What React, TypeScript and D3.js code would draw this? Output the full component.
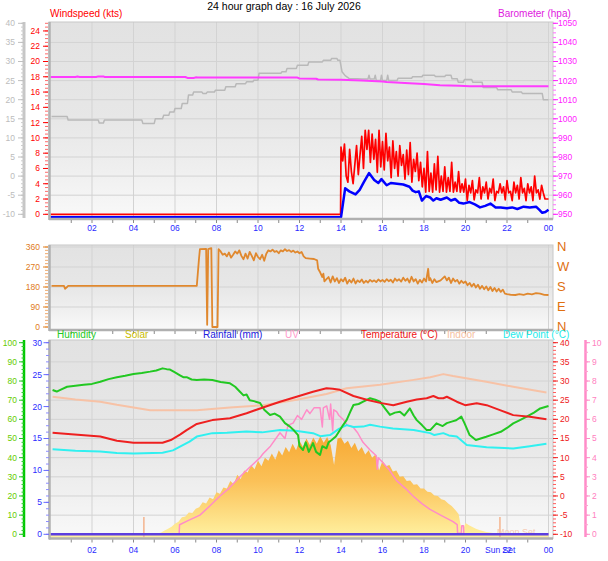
import { useEffect, useRef } from 'react';
import * as d3 from 'd3';

type Pt = [number, number];

const W = 608;
const H = 561;
const FONT = '"Liberation Sans", Arial, sans-serif';

const chartTitle = '24 hour graph day : 16 July 2026';

// x axis (hours)
const labelHours = [2, 4, 6, 8, 10, 12, 14, 16, 18, 20, 22, 24];
const hourLabels = ['02', '04', '06', '08', '10', '12', '14', '16', '18', '20', '22', '00'];

// ---- top panel ----
const barometer: Pt[] = [
  [0, 1021.9], [1.2, 1021.9], [1.3, 1022.1], [1.4, 1021.9], [2.2, 1021.9], [2.3, 1022.2],
  [2.55, 1022.2], [2.6, 1021.9], [6.5, 1021.9], [6.6, 1021.4], [6.9, 1021.4], [7.0, 1021.7],
  [7.1, 1021.6], [11.9, 1021.6], [12.0, 1021.1], [12.8, 1021.0], [12.9, 1020.6], [14.0, 1020.5],
  [15.0, 1020.0], [16.0, 1019.5], [16.2, 1019.3], [17.3, 1018.6], [18.0, 1018.2], [18.77, 1017.6],
  [19.7, 1017.3], [20.2, 1017.0], [24.0, 1017.0],
];

const grayTrace: Pt[] = [
  [0.05, 15.6], [0.8, 15.6], [0.85, 14.7], [2.3, 14.7], [2.35, 13.9], [2.55, 13.9], [2.6, 14.7],
  [4.4, 14.7], [4.45, 13.8], [5.0, 13.8], [5.05, 15.0], [5.4, 15.0], [5.45, 15.9], [5.7, 15.9],
  [5.75, 16.8], [5.95, 16.8], [6.0, 17.7], [6.3, 17.7], [6.35, 19.0], [6.6, 19.0], [6.65, 21.2],
  [6.85, 21.2], [6.9, 22.0], [7.3, 22.0], [7.35, 21.6], [7.5, 21.6], [7.55, 22.0], [7.9, 22.0],
  [7.95, 22.5], [8.4, 22.5], [8.45, 23.4], [8.9, 23.4], [8.95, 24.2], [9.4, 24.2], [9.45, 24.7],
  [9.75, 24.7], [9.8, 25.1], [10.0, 25.1], [10.05, 26.9], [11.1, 26.9], [11.15, 27.3], [11.35, 27.3],
  [11.4, 28.2], [11.85, 28.2], [11.9, 29.0], [12.4, 29.0], [12.45, 29.9], [13.1, 29.9], [13.15, 30.3],
  [13.5, 30.3], [13.55, 30.8], [13.8, 30.8], [13.85, 30.3], [13.95, 30.3], [14.05, 27.3], [14.2, 26.3],
  [14.4, 25.5], [14.8, 25.5], [15.0, 25.4], [15.3, 25.4], [15.35, 26.4], [15.4, 25.4], [15.6, 25.4],
  [15.65, 26.4], [15.7, 25.0], [15.9, 25.0], [15.95, 26.4], [16.0, 25.0], [16.2, 25.0], [16.25, 26.4],
  [16.3, 25.0], [16.7, 25.0], [16.75, 25.6], [17.4, 25.6], [17.45, 26.0], [17.9, 26.0], [17.95, 26.4],
  [18.5, 26.4], [18.55, 26.1], [19.0, 26.1], [19.05, 26.4], [19.3, 26.4], [19.35, 25.5], [19.6, 25.5],
  [19.65, 24.6], [19.9, 24.6], [19.95, 25.3], [20.3, 25.3], [20.35, 24.6], [20.8, 24.6], [20.85, 23.2],
  [21.5, 23.2], [21.55, 22.6], [22.2, 22.6], [22.25, 22.0], [22.7, 22.0], [22.75, 21.6], [23.7, 21.6],
  [23.75, 20.0], [24.0, 20.0],
];

// gust, 5 minute samples from 14:00
const gustStartHour = 14;
const gust = [
  8.8, 7.0, 9.2, 5.0, 4.2, 8.5, 5.6, 4.0, 6.5, 9.0, 5.2, 7.8,
  10.2, 6.0, 11.0, 8.5, 11.0, 6.8, 10.5, 7.2, 9.8, 5.5, 11.0, 6.2,
  9.5, 5.8, 10.6, 7.0, 8.8, 4.8, 9.6, 6.0, 8.2, 5.0, 9.0, 6.4,
  7.8, 4.6, 8.4, 5.2, 9.4, 4.2, 7.2, 5.6, 8.0, 4.4, 6.8, 3.6,
  6.0, 2.9, 8.2, 3.0, 5.4, 2.9, 6.6, 3.2, 7.6, 2.9, 5.0, 3.0,
  6.2, 2.9, 4.8, 3.0, 6.8, 2.9, 4.2, 3.0, 5.6, 2.9, 4.0, 2.9,
  4.6, 1.8, 3.8, 2.8, 4.4, 1.9, 3.2, 2.8, 4.8, 2.0, 3.6, 2.8,
  4.2, 2.0, 3.4, 2.8, 4.6, 1.8, 3.0, 2.8, 4.0, 2.8, 3.6, 1.9,
  4.4, 2.8, 3.0, 1.8, 4.2, 2.8, 3.8, 2.0, 4.8, 2.8, 3.4, 1.8,
  4.0, 2.8, 3.6, 1.8, 5.0, 2.8, 3.2, 2.0, 3.8, 2.8, 2.0, 2.0,
  2.0,
];

const windAvg: Pt[] = [
  [0, -0.4], [14.0, -0.4], [14.2, 3.4], [14.4, 3.0], [14.7, 2.6], [14.9, 3.2], [15.1, 4.2],
  [15.35, 5.4], [15.6, 4.5], [15.8, 4.1], [15.95, 4.6], [16.2, 3.8], [16.4, 4.1], [16.7, 4.0],
  [17.0, 3.9], [17.3, 3.6], [17.45, 3.1], [17.6, 2.9], [17.75, 3.0], [17.9, 1.8], [18.1, 2.4],
  [18.3, 2.2], [18.45, 1.8], [18.6, 2.1], [18.8, 1.9], [19.1, 2.2], [19.3, 1.8], [19.5, 2.0],
  [19.7, 1.5], [19.9, 1.4], [20.2, 1.6], [20.45, 1.3], [20.7, 0.9], [20.95, 1.1], [21.2, 1.4],
  [21.45, 0.9], [21.7, 0.9], [22.0, 0.8], [22.25, 0.9], [22.5, 0.7], [22.8, 1.0], [23.1, 0.9],
  [23.4, 1.0], [23.55, 0.6], [23.7, 0.2], [23.85, 0.3], [24.0, 0.6],
];

// ---- middle panel: wind direction ----
const windDir: Pt[] = [
  [0.05, 185], [0.65, 185], [0.7, 172], [0.8, 180], [0.85, 185], [7.05, 185], [7.15, 300], [7.2, 350],
  [7.5, 352], [7.55, 10], [7.6, 350], [7.75, 355], [7.8, 0], [8.05, 0], [8.1, 350], [8.2, 340],
  [8.3, 325], [8.4, 330], [8.5, 318], [8.6, 335], [8.7, 312], [8.8, 325], [8.9, 340], [9.0, 330],
  [9.1, 345], [9.2, 320], [9.3, 305], [9.4, 330], [9.5, 308], [9.6, 338], [9.7, 320], [9.8, 300],
  [9.9, 332], [10.0, 315], [10.1, 305], [10.2, 325], [10.3, 298], [10.4, 330], [10.5, 345], [10.6, 340],
  [10.7, 348], [10.8, 338], [10.9, 342], [11.0, 332], [11.1, 345], [11.2, 340], [11.3, 350], [11.4, 342],
  [11.5, 346], [11.6, 338], [11.7, 344], [11.8, 335], [11.9, 340], [12.0, 332], [12.1, 338], [12.2, 318],
  [12.3, 310], [12.5, 308], [12.7, 306], [12.85, 300], [12.9, 262], [13.0, 245], [13.1, 225], [13.15, 240],
  [13.2, 205], [13.3, 215], [13.4, 225], [13.5, 200], [13.6, 228], [13.7, 205], [13.8, 220], [13.9, 198],
  [14.0, 215], [14.1, 205], [14.2, 222], [14.3, 195], [14.4, 212], [14.5, 200], [14.6, 218], [14.7, 196],
  [14.8, 210], [14.9, 202], [15.0, 214], [15.1, 198], [15.2, 208], [15.3, 200], [15.4, 212], [15.5, 204],
  [15.6, 210], [15.7, 202], [15.8, 214], [15.9, 205], [16.0, 212], [16.1, 203], [16.2, 215], [16.3, 206],
  [16.4, 213], [16.5, 200], [16.6, 218], [16.7, 208], [16.8, 215], [16.9, 204], [17.0, 222], [17.1, 208],
  [17.2, 218], [17.3, 200], [17.4, 226], [17.5, 205], [17.6, 215], [17.7, 195], [17.8, 212], [17.9, 200],
  [18.0, 218], [18.1, 205], [18.2, 262], [18.25, 210], [18.3, 220], [18.4, 198], [18.5, 215], [18.6, 202],
  [18.8, 210], [19.0, 228], [19.1, 210], [19.2, 222], [19.3, 198], [19.4, 218], [19.5, 205], [19.6, 212],
  [19.7, 195], [19.8, 208], [19.9, 198], [20.0, 205], [20.1, 188], [20.2, 198], [20.3, 182], [20.4, 195],
  [20.5, 178], [20.6, 190], [20.7, 172], [20.8, 185], [20.9, 170], [21.0, 182], [21.1, 165], [21.2, 180],
  [21.3, 162], [21.4, 176], [21.5, 160], [21.6, 172], [21.7, 158], [21.8, 168], [21.9, 150], [22.0, 148],
  [22.2, 145], [22.4, 144], [22.6, 148], [22.8, 145], [23.0, 150], [23.2, 147], [23.4, 152], [23.6, 150],
  [23.8, 145], [24.0, 144],
];
const compassLetters = ['N', 'W', 'S', 'E', 'N'];
const compassDeg = [360, 270, 180, 90, 0];

// ---- bottom panel ----
const humidity: Pt[] = [
  [0.1, 75.3], [0.3, 74.5], [0.5, 75.5], [0.8, 77], [1.2, 77.5], [1.6, 78], [2.0, 78.5], [2.4, 79.6],
  [2.8, 81], [3.2, 82], [3.6, 82.8], [4.0, 83.7], [4.4, 84.2], [4.8, 84.9], [5.1, 85.5], [5.4, 86.6],
  [5.6, 86.2], [5.76, 86], [6.0, 84.5], [6.24, 83], [6.4, 82], [6.56, 82], [6.8, 80.8], [7.05, 80.5],
  [7.4, 80.8], [7.8, 80.5], [8.2, 79.5], [8.65, 78.8], [8.9, 77], [9.13, 74.4], [9.3, 72.5], [9.45, 73],
  [9.6, 70], [9.8, 69.5], [10.1, 68.5], [10.3, 65], [10.58, 62.3], [10.8, 63], [11.06, 61.4], [11.3, 58],
  [11.54, 56.2], [11.75, 54], [11.93, 51.8], [12.0, 46], [12.17, 44], [12.3, 48], [12.45, 43], [12.65, 47.6],
  [12.8, 43], [12.99, 41.4], [13.1, 46], [13.3, 44.9], [13.4, 48], [13.55, 49.2], [13.75, 51], [13.95, 54.4],
  [14.1, 57], [14.27, 59.6], [14.45, 64], [14.6, 67.5], [14.85, 68], [15.07, 69.2], [15.4, 71], [15.65, 70.2],
  [15.88, 69.2], [16.1, 66], [16.36, 62.3], [16.6, 63.5], [16.84, 64], [17.05, 62], [17.32, 65.7], [17.5, 62],
  [17.65, 59.6], [17.9, 57], [18.13, 54.4], [18.3, 54.4], [18.6, 57.9], [18.9, 56.5], [19.1, 58], [19.33, 58.8],
  [19.55, 59.5], [19.8, 61.4], [19.95, 58], [20.2, 51.8], [20.5, 49.2], [21.0, 50.9], [21.3, 52], [21.7, 53.5],
  [22.0, 55.5], [22.3, 57.9], [22.6, 59.5], [22.95, 61.4], [23.3, 63.5], [23.6, 65.7], [24.0, 67],
];

const temperature: Pt[] = [
  [0.1, 16.5], [1.0, 16.1], [2.4, 15.5], [3.2, 14.4], [4.0, 13.9], [5.4, 13.9], [5.8, 14.6], [6.24, 16.0],
  [6.56, 17.2], [7.05, 18.8], [7.8, 19.8], [8.65, 20.3], [9.45, 21.6], [10.24, 23.1], [11.06, 24.6],
  [11.86, 25.9], [12.65, 27.2], [13.3, 28.1], [13.6, 28.0], [13.95, 27.7], [14.6, 26.1], [15.24, 25.1],
  [15.88, 24.3], [16.52, 23.7], [17.17, 24.6], [17.65, 25.2], [18.13, 25.5], [18.45, 26.1], [18.7, 25.5],
  [18.93, 25.5], [19.1, 25.9], [19.58, 24.6], [19.98, 23.7], [20.54, 24.2], [21.02, 23.7], [21.66, 22.4],
  [22.3, 21.1], [23.1, 20.7], [23.9, 20],
];

const indoor: Pt[] = [
  [0.1, 25.9], [1.2, 25.2], [2.4, 24.6], [3.2, 23.8], [4.0, 23.1], [4.8, 22.4], [6.24, 22.4], [7.05, 22.4],
  [8.65, 23.1], [10.24, 23.7], [11.86, 25.1], [13.3, 26.6], [14.27, 28.1], [15.88, 29], [17.5, 30.3],
  [18.3, 31], [18.93, 31.8], [19.4, 31.3], [21.0, 29.8], [22.3, 28.5], [23.9, 27],
];

const dewPoint: Pt[] = [
  [0.1, 12.2], [1.2, 11.8], [2.4, 11.6], [3.2, 11.2], [4.0, 11.1], [5.4, 11.3], [5.9, 11.9], [6.24, 12.9],
  [6.7, 14.2], [7.05, 15.5], [7.8, 16.4], [8.5, 16.5], [9.45, 16.8], [10.2, 16.6], [11.06, 17.2], [11.8, 17.0],
  [12.65, 16.4], [13.0, 15.6], [13.47, 15.9], [13.9, 17.5], [14.27, 18.5], [14.6, 18.0], [15.07, 18.1],
  [15.4, 18.6], [15.88, 18.1], [16.5, 17.6], [17.5, 17.2], [18.3, 16.4], [18.5, 15.9], [18.93, 16.4],
  [19.2, 15.8], [19.58, 15.5], [20.06, 13.3], [21.02, 12.7], [22.3, 12.4], [23.1, 13.0], [23.9, 13.6],
];

const uvIndex: Pt[] = [
  [0, 0], [6.2, 0], [6.22, 0.5], [6.6, 0.7], [7.2, 1.0], [7.7, 1.5], [8.17, 2.0], [8.6, 2.4], [9.13, 3.0],
  [9.6, 3.5], [10.1, 4.0], [10.24, 4.2], [10.6, 4.6], [11.06, 5.3], [11.3, 5.0], [11.45, 5.7], [11.69, 5.8],
  [11.9, 6.2], [12.1, 6.0], [12.35, 6.5], [12.5, 6.3], [12.7, 6.6], [12.99, 6.6], [13.1, 5.6], [13.15, 6.6],
  [13.31, 6.7], [13.45, 6.0], [13.5, 6.8], [13.6, 5.4], [13.65, 6.5], [13.79, 6.4], [13.9, 6.2], [14.1, 6.0],
  [14.3, 5.7], [14.58, 5.6], [14.8, 5.3], [15.06, 4.8], [15.4, 4.4], [15.7, 4.1], [15.75, 3.4], [15.8, 4.0],
  [15.88, 3.9], [16.3, 3.4], [16.68, 2.8], [17.1, 2.4], [17.47, 2.0], [17.9, 1.6], [18.29, 1.3], [18.8, 1.0],
  [19.4, 0.66], [19.6, 0.5], [19.62, 0.05], [19.8, 0.05], [19.82, 0.45], [19.9, 0.45], [19.92, 0], [24, 0],
];

// solar, 10 minute samples from 05:00 (W/m2)
const solarStartHour = 5;
const solar = [
  0, 8, 18, 35, 52, 70,
  100, 118, 160, 168, 205, 200,
  240, 255, 300, 290, 345, 330,
  395, 380, 440, 430, 500, 470,
  560, 520, 600, 580, 650, 610,
  690, 640, 720, 690, 760, 700,
  790, 740, 820, 770, 850, 790,
  880, 820, 900, 840, 910, 850,
  920, 860, 915, 840, 650, 900,
  910, 850, 880, 810, 860, 780,
  820, 750, 790, 720, 750, 600,
  690, 640, 650, 590, 600, 540,
  545, 500, 505, 465, 470, 430,
  430, 400, 395, 365, 360, 330,
  320, 290, 265, 230, 190, 12,
  106, 85, 68, 52, 40, 30,
  22, 16, 12, 8, 5, 2,
  0,
];

const moonRise = 4.5;
const moonSet = 21.66;

const legendNames = ['Humidity', 'Solar', 'Rainfall (mm)', 'UV', 'Temperature (°C)', 'Indoor', 'Dew Point (°C)'];
const legendColors = ['#22c822', '#c8bc00', '#2020dd', '#ff9ccc', '#ee1414', '#f5c0a0', '#22eaea'];
const legendX = [57, 125, 203, 285, 361, 447, 503];

export default function App() {
  const svgRef = useRef<SVGSVGElement>(null);

  useEffect(() => {
    if (!svgRef.current) return;
    const svg = d3.select(svgRef.current);
    svg.selectAll('*').remove();
    svg.attr('width', W).attr('height', H).style('font-family', FONT);
    svg.append('rect').attr('width', W).attr('height', H).attr('fill', '#fff');

    const defs = svg.append('defs');
    const bg = defs.append('linearGradient').attr('id', 'bgGrad')
      .attr('x1', 0).attr('x2', 0).attr('y1', 0).attr('y2', 1);
    ([[0, '#e2e2e2'], [0.5, '#e7e7e7'], [0.75, '#efefef'], [1, '#f9f9f9']] as [number, string][])
      .forEach(([o, c]) => bg.append('stop').attr('offset', o).attr('stop-color', c));
    const sg = defs.append('linearGradient').attr('id', 'solarGrad')
      .attr('gradientUnits', 'userSpaceOnUse').attr('x1', 0).attr('x2', 0).attr('y1', 435).attr('y2', 538);
    ([[0, '#f7a933'], [0.45, '#fbc158'], [1, '#fff2a2']] as [number, string][])
      .forEach(([o, c]) => sg.append('stop').attr('offset', o).attr('stop-color', c));

    const x = d3.scaleLinear().domain([0, 24]).range([50.5, 548.5]);
    const L = 49;
    const R = 553;

    const panel = (y0: number, y1: number, gridY: number[]) => {
      const g = svg.append('g');
      g.append('rect').attr('x', L).attr('y', y0).attr('width', R - L).attr('height', y1 - y0)
        .attr('fill', 'url(#bgGrad)');
      g.selectAll('line.vx').data(labelHours).join('line')
        .attr('x1', (d) => x(d)).attr('x2', (d) => x(d)).attr('y1', y0).attr('y2', y1)
        .attr('stroke', '#d3d3d3').attr('stroke-width', 1);
      g.selectAll('line.hy').data(gridY).join('line')
        .attr('x1', L).attr('x2', R).attr('y1', (d) => d).attr('y2', (d) => d)
        .attr('stroke', '#d3d3d3').attr('stroke-width', 1);
    };

    const frame = (y0: number, y1: number) => {
      const g = svg.append('g');
      g.append('rect').attr('x', L).attr('y', y0).attr('width', R - L).attr('height', y1 - y0)
        .attr('fill', 'none').attr('stroke', '#c8c8c8');
      g.append('line').attr('x1', L + 0.5).attr('x2', L + 0.5).attr('y1', y0).attr('y2', y1 + 1)
        .attr('stroke', '#b0b0b0').attr('stroke-width', 2.5);
      g.append('line').attr('x1', L).attr('x2', R).attr('y1', y1).attr('y2', y1)
        .attr('stroke', '#b0b0b0').attr('stroke-width', 2.5);
      g.selectAll('line.ht').data(d3.range(1, 24)).join('line')
        .attr('x1', (d) => x(d)).attr('x2', (d) => x(d)).attr('y1', y1 + 1).attr('y2', y1 + 4)
        .attr('stroke', '#8a8a8a');
    };

    const ticks = (vals: number[], ys: (v: number) => number, x1: number, x2: number, color: string, w = 1) => {
      svg.append('g').selectAll('line').data(vals).join('line')
        .attr('x1', x1).attr('x2', x2).attr('y1', (d) => ys(d)).attr('y2', (d) => ys(d))
        .attr('stroke', color).attr('stroke-width', w);
    };

    const labels = (vals: number[], ys: (v: number) => number, xPos: number, anchor: string, color: string, size = 8.5) => {
      svg.append('g').selectAll('text').data(vals).join('text')
        .attr('x', xPos).attr('y', (d) => ys(d)).attr('dy', '0.35em')
        .attr('text-anchor', anchor).style('font-size', `${size}px`).style('fill', color)
        .text((d) => String(d));
    };

    const hourAxis = (yBase: number) => {
      svg.append('g').selectAll('text').data(labelHours).join('text')
        .attr('x', (d) => x(d)).attr('y', yBase).attr('text-anchor', 'middle')
        .style('font-size', '8.5px').style('fill', '#2a2aff')
        .text((_, i) => hourLabels[i]);
    };

    const text = (t: string, xPos: number, yPos: number, color: string, size: number, anchor = 'start') => {
      svg.append('text').attr('x', xPos).attr('y', yPos).attr('text-anchor', anchor)
        .style('font-size', `${size}px`).style('fill', color).text(t);
    };

    const path = (data: Pt[], ys: (v: number) => number, color: string, w: number) => {
      const line = d3.line<Pt>().x((d) => x(d[0])).y((d) => ys(d[1]));
      svg.append('path').datum(data).attr('d', line).attr('fill', 'none')
        .attr('stroke', color).attr('stroke-width', w).attr('stroke-linejoin', 'round');
    };

    // Title
    text(chartTitle, 284, 9.5, '#000', 10.5, 'middle');

    // ---------- Top panel ----------
    const yWind = d3.scaleLinear().domain([0, 25]).range([214.3, 23.3]);
    const yGray = d3.scaleLinear().domain([-10, 40]).range([214.3, 23.3]);
    const yBaro = d3.scaleLinear().domain([950, 1050]).range([214.3, 23.3]);

    panel(22, 219, d3.range(-5, 40, 5).map((v) => yGray(v)));

    const gustPts: Pt[] = [[0, 0], [13.98, 0], ...gust.map((v, i) => [gustStartHour + i / 12, v] as Pt)];
    path(grayTrace, yGray, '#b9b9b9', 1.5);
    path(barometer, yBaro, '#ff3cff', 2);
    path(gustPts, yWind, '#ff0000', 1.7);
    path(windAvg, yWind, '#0000ff', 2.5);
    frame(22, 219);

    // left grey axis
    svg.append('line').attr('x1', 24).attr('x2', 24).attr('y1', 22).attr('y2', 218)
      .attr('stroke', '#c6c6c6').attr('stroke-width', 3);
    ticks(d3.range(-10, 40.1, 1), yGray, 21, 24, '#cccccc');
    ticks(d3.range(-10, 41, 5), yGray, 18, 24, '#c0c0c0');
    labels(d3.range(-10, 41, 5), yGray, 15, 'end', '#bcbcbc');
    // windspeed axis
    ticks(d3.range(0, 25.01, 0.5), yWind, 45, 48, '#ff6a6a');
    ticks(d3.range(0, 25, 2), yWind, 43, 48, '#ff0000');
    labels(d3.range(0, 25, 2), yWind, 40, 'end', '#ff0000');
    // barometer axis
    ticks(d3.range(950, 1050.1, 2.5), yBaro, 553, 556, '#ff70ff');
    ticks(d3.range(950, 1051, 10), yBaro, 553, 558, '#ff20ff');
    labels(d3.range(950, 1051, 10), yBaro, 558, 'start', '#ff20ff');

    text('Windspeed (kts)', 50, 17, '#ff0000', 10);
    text('Barometer (hpa)', 498, 17, '#e020e0', 10);
    hourAxis(231);

    // ---------- Middle panel ----------
    const yDir = d3.scaleLinear().domain([0, 360]).range([327, 247]);
    panel(245, 330, [90, 180, 270, 360].map((v) => yDir(v)));
    path(windDir, yDir, '#e0882e', 1.8);
    frame(245, 330);
    ticks(d3.range(0, 361, 15), yDir, 45, 48, '#f0a868');
    ticks([0, 90, 180, 270, 360], yDir, 43, 48, '#e08020');
    labels([0, 90, 180, 270, 360], yDir, 40, 'end', '#e07a1a');
    svg.append('g').selectAll('text').data(compassDeg).join('text')
      .attr('x', 557).attr('y', (d) => yDir(d)).attr('dy', '0.34em')
      .style('font-size', '13px').style('fill', '#e07010')
      .text((_, i) => compassLetters[i]);

    // ---------- Bottom panel ----------
    const yHum = d3.scaleLinear().domain([0, 100]).range([534.3, 342.7]);
    const yRain = d3.scaleLinear().domain([0, 30]).range([534.3, 342.7]);
    const yTemp = d3.scaleLinear().domain([-10, 40]).range([534.3, 342.7]);
    const yUV = d3.scaleLinear().domain([0, 10]).range([534.3, 342.7]);
    const ySolar = d3.scaleLinear().domain([0, 1800]).range([534.3, 342.7]);

    panel(340, 538.5, d3.range(10, 100, 10).map((v) => yHum(v)));

    const solarPts: Pt[] = [
      [0, 0],
      ...solar.map((v, i) => [solarStartHour + i / 6, v] as Pt),
      [24, 0],
    ];
    const solarArea = d3.area<Pt>().x((d) => x(d[0])).y0(538).y1((d) => ySolar(d[1]));
    svg.append('path').datum(solarPts).attr('d', solarArea).attr('fill', 'url(#solarGrad)');

    [moonRise, moonSet].forEach((h) => {
      svg.append('line').attr('x1', x(h)).attr('x2', x(h)).attr('y1', 517).attr('y2', 537)
        .attr('stroke', '#f4b48e').attr('stroke-width', 1.5);
    });
    text('Moon Set', 497, 535, '#f6c9b2', 9);

    path(uvIndex, yUV, '#ff8cc8', 1.5);
    path(indoor, yTemp, '#f7c2a6', 2);
    path(dewPoint, yTemp, '#30f0f0', 2);
    path(humidity, yHum, '#22c822', 2);
    path(temperature, yTemp, '#ee2020', 2);
    path([[0, 0], [24, 0]], yRain, '#5c3ee0', 2.5);
    frame(340, 538.5);

    // humidity axis
    svg.append('line').attr('x1', 24).attr('x2', 24).attr('y1', 340).attr('y2', 537)
      .attr('stroke', '#00c800').attr('stroke-width', 2.5);
    ticks(d3.range(0, 100.1, 2), yHum, 21.5, 24, '#33cc33');
    ticks(d3.range(0, 101, 10), yHum, 19, 24, '#22c822');
    labels(d3.range(0, 101, 10), yHum, 17, 'end', '#66cc00');
    // rainfall axis
    ticks(d3.range(0, 30.1, 1), yRain, 46, 49, '#8c8cff');
    ticks(d3.range(0, 31, 5), yRain, 43.5, 49, '#6a6aff');
    labels(d3.range(0, 31, 5), yRain, 42, 'end', '#2b2bff');
    // temperature axis
    ticks(d3.range(-10, 40.1, 1), yTemp, 553, 556, '#ff5c5c');
    ticks(d3.range(-10, 41, 5), yTemp, 553, 558, '#ee2020');
    labels(d3.range(-10, 41, 5), yTemp, 560, 'start', '#ee2020');
    // UV axis
    svg.append('line').attr('x1', 585.5).attr('x2', 585.5).attr('y1', 340).attr('y2', 537)
      .attr('stroke', '#ff8cc8').attr('stroke-width', 2.5);
    ticks(d3.range(0, 10.01, 0.5), yUV, 585, 588, '#ffa0d0');
    ticks(d3.range(0, 11, 1), yUV, 585, 590, '#ff8cc8');
    labels(d3.range(0, 11, 1), yUV, 592, 'start', '#ff80c0');

    svg.append('g').selectAll('text').data(legendNames).join('text')
      .attr('x', (_, i) => legendX[i]).attr('y', 337.5)
      .style('font-size', '10px').style('fill', (_, i) => legendColors[i])
      .text((d) => d);

    hourAxis(553);
    text('Sun Set', 485, 553, '#2a2aff', 8.5);
  }, []);

  return <svg ref={svgRef} style={{ position: 'absolute', left: 0, top: 0 }} />;
}
